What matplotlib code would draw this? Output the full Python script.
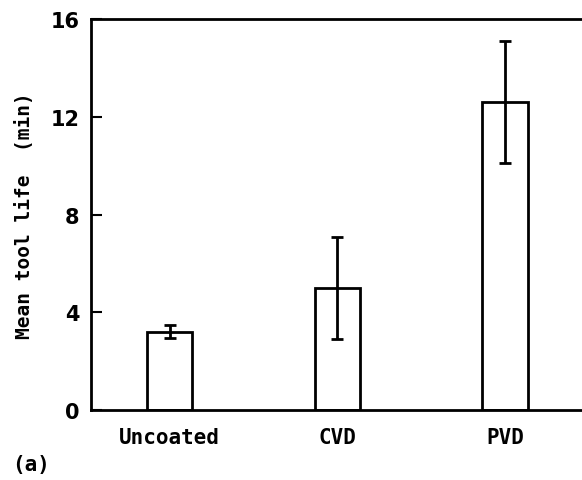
import matplotlib
matplotlib.use("Agg")
import matplotlib.pyplot as plt
import numpy as np

coatings = ["Uncoated", "CVD", "PVD"]
mean_life = [3.2, 5.0, 12.6]
life_err = [0.27, 2.1, 2.5]
y_ticks = [0, 4, 8, 12, 16]

plt.rcParams["font.family"] = ["DejaVu Sans Mono", "DejaVu Sans"]
plt.rcParams["font.weight"] = "bold"

fig = plt.figure(figsize=(5.82, 4.81), dpi=100)
ax = fig.add_axes([0.156, 0.1455, 0.844, 0.8125])

x = np.arange(len(coatings))
ax.bar(x, mean_life, width=0.27, facecolor="white", edgecolor="black",
       linewidth=2, zorder=2)
ax.errorbar(x, mean_life, yerr=life_err, fmt="none", ecolor="black",
            elinewidth=2, capsize=4.3, capthick=2, zorder=3)

ax.set_xlim(-0.47, 2.46)
ax.set_ylim(0, 16)
ax.set_yticks(y_ticks)
ax.set_yticklabels([str(t) for t in y_ticks], fontsize=15,
                   family="DejaVu Sans")
ax.set_xticks(x)
ax.set_xticklabels(coatings, fontsize=15)
ax.tick_params(axis="x", length=0, pad=12)
ax.tick_params(axis="y", direction="in", length=8, width=1.5, pad=8)

for side in ["left", "top", "bottom"]:
    ax.spines[side].set_linewidth(2)
ax.spines["right"].set_visible(False)

ax.set_ylabel("Mean tool life  (min)", fontsize=14, fontweight="bold",
              labelpad=12)
fig.text(0.02, 0.02, "(a)", fontsize=15, fontweight="bold")

fig.savefig("out.png", dpi=100)
